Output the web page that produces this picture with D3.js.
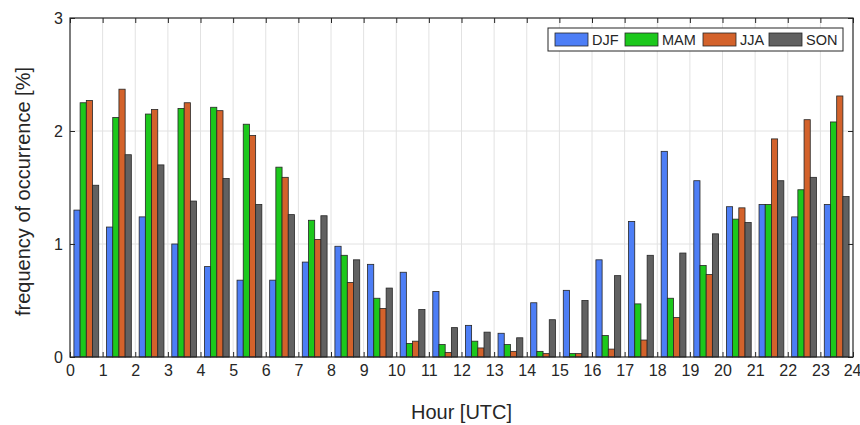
<!DOCTYPE html>
<html>
<head>
<meta charset="utf-8">
<script src="https://cdn.jsdelivr.net/npm/d3@7"></script>
<style>
  html, body { margin: 0; padding: 0; background: #fff; }
  svg { display: block; font-family: "Liberation Sans", Arial, Helvetica, sans-serif; }
</style>
</head>
<body>
<svg id="chart" width="860" height="425"></svg>
<script>
const hours = [0,1,2,3,4,5,6,7,8,9,10,11,12,13,14,15,16,17,18,19,20,21,22,23];
const seasons = ["DJF", "MAM", "JJA", "SON"];
const DJF = [1.30,1.15,1.24,1.00,0.80,0.68,0.68,0.84,0.98,0.82,0.75,0.58,0.28,0.21,0.48,0.59,0.86,1.20,1.82,1.56,1.33,1.35,1.24,1.35];
const MAM = [2.25,2.12,2.15,2.20,2.21,2.06,1.68,1.21,0.90,0.52,0.12,0.11,0.14,0.11,0.05,0.03,0.19,0.47,0.52,0.81,1.22,1.35,1.48,2.08];
const JJA = [2.27,2.37,2.19,2.25,2.18,1.96,1.59,1.04,0.66,0.43,0.14,0.04,0.08,0.05,0.03,0.03,0.07,0.15,0.35,0.73,1.32,1.93,2.10,2.31];
const SON = [1.52,1.79,1.70,1.38,1.58,1.35,1.26,1.25,0.86,0.61,0.42,0.26,0.22,0.17,0.33,0.50,0.72,0.90,0.92,1.09,1.19,1.56,1.59,1.42];
const xTicks = [0,1,2,3,4,5,6,7,8,9,10,11,12,13,14,15,16,17,18,19,20,21,22,23,24];
const yTicks = [0,1,2,3];
const xLabel = "Hour [UTC]";
const yLabel = "frequency of occurrence [%]";

const seriesValues = [DJF, MAM, JJA, SON];
const colors = ["#4d7ef6", "#1cc81c", "#d3622b", "#616161"];

const svg = d3.select("#chart");
const m = { left: 70, top: 18, right: 853, bottom: 357 };
const W = m.right - m.left, H = m.bottom - m.top;

const x = d3.scaleLinear().domain([0, 24]).range([0, W]);
const y = d3.scaleLinear().domain([0, 3]).range([H, 0]);

const g = svg.append("g").attr("transform", `translate(${m.left},${m.top})`);

// grid
g.append("g").selectAll("line").data(xTicks.slice(1, -1)).join("line")
  .attr("x1", d => x(d)).attr("x2", d => x(d)).attr("y1", 0).attr("y2", H)
  .attr("stroke", "#e2e2e2").attr("stroke-width", 1);
g.append("g").selectAll("line").data(yTicks.slice(1, -1)).join("line")
  .attr("y1", d => y(d)).attr("y2", d => y(d)).attr("x1", 0).attr("x2", W)
  .attr("stroke", "#e2e2e2").attr("stroke-width", 1);

// bars
const groupW = 0.76;
const barW = groupW / seasons.length;
const sub = d3.scaleBand().domain(seasons).range([-groupW / 2, groupW / 2]);
seasons.forEach((s, i) => {
  g.append("g").selectAll("rect").data(hours).join("rect")
    .attr("x", h => x(h + 0.5 + sub(s)))
    .attr("width", x(barW) - x(0))
    .attr("y", (h, j) => y(seriesValues[i][j]))
    .attr("height", (h, j) => y(0) - y(seriesValues[i][j]))
    .attr("fill", colors[i])
    .attr("stroke", "#262626")
    .attr("stroke-width", 0.8);
});

// axes (inward ticks)
const fontTick = 16;
const xAxisB = d3.axisBottom(x).tickValues(xTicks).tickFormat(d3.format("d")).tickSize(-5).tickPadding(8);
const xAxisT = d3.axisTop(x).tickValues(xTicks).tickFormat("").tickSize(-5);
const yAxisL = d3.axisLeft(y).tickValues(yTicks).tickFormat(d3.format("d")).tickSize(-5).tickPadding(7);
const yAxisR = d3.axisRight(y).tickValues(yTicks).tickFormat("").tickSize(-5);

function style(sel) {
  sel.select(".domain").remove();
  sel.selectAll(".tick line").attr("stroke", "#262626").attr("stroke-width", 1);
  sel.selectAll(".tick text").attr("fill", "#262626").attr("font-size", fontTick)
     .attr("font-family", "Liberation Sans, Arial, Helvetica, sans-serif");
}
const xb = g.append("g").attr("transform", `translate(0,${H})`).call(xAxisB).call(style);
// keep the last label inside the picture
xb.selectAll(".tick text").filter(d => d === 24).attr("text-anchor", "end").attr("dx", 8);
g.append("g").call(xAxisT).call(style);
g.append("g").call(yAxisL).call(style);
g.append("g").attr("transform", `translate(${W},0)`).call(yAxisR).call(style);

// box
g.append("rect").attr("x", 0).attr("y", 0).attr("width", W).attr("height", H)
  .attr("fill", "none").attr("stroke", "#262626").attr("stroke-width", 1.2);

// axis labels
svg.append("text").attr("x", m.left + W / 2).attr("y", 419)
  .attr("text-anchor", "middle").attr("font-size", 20).attr("fill", "#262626").text(xLabel);
svg.append("text").attr("transform", `translate(30,${m.top + H / 2 + 4}) rotate(-90)`)
  .attr("text-anchor", "middle").attr("font-size", 20).attr("fill", "#262626").text(yLabel);

// legend
const lg = svg.append("g").attr("transform", "translate(548,28)");
lg.append("rect").attr("x", 0).attr("y", 0).attr("width", 295).attr("height", 23)
  .attr("fill", "#fff").attr("stroke", "#262626").attr("stroke-width", 1);
const itemX = [7, 77, 155, 221];
seasons.forEach((s, i) => {
  lg.append("rect").attr("x", itemX[i]).attr("y", 5).attr("width", 33).attr("height", 13)
    .attr("fill", colors[i]).attr("stroke", "#262626").attr("stroke-width", 0.8);
  lg.append("text").attr("x", itemX[i] + 37).attr("y", 17)
    .attr("font-size", 14.5).attr("fill", "#262626").text(s);
});
</script>
</body>
</html>
